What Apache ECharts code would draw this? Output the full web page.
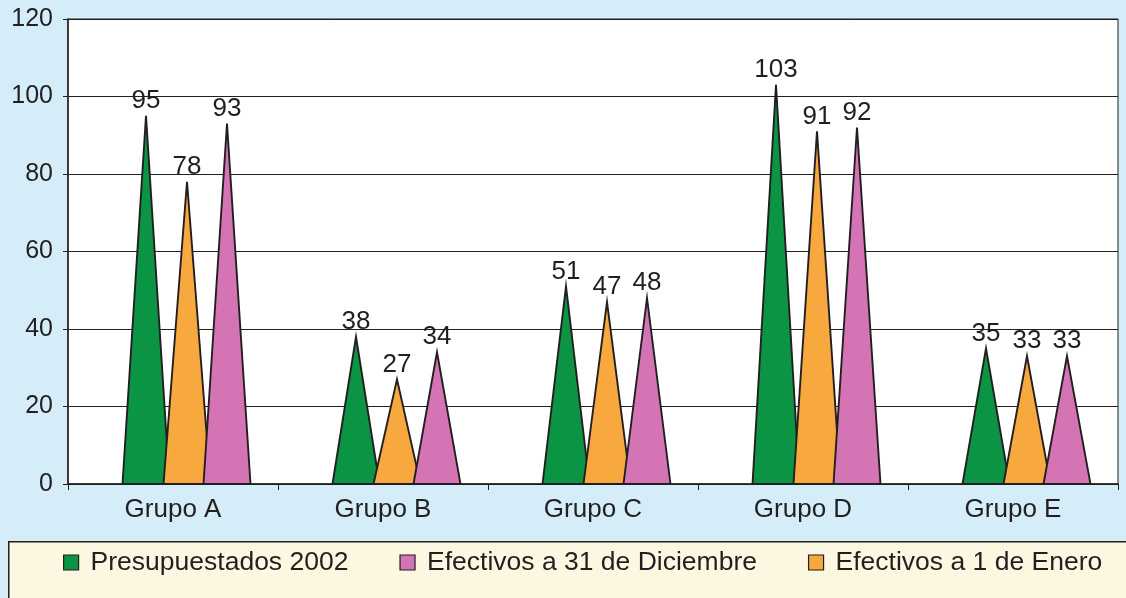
<!DOCTYPE html>
<html lang="es">
<head>
<meta charset="UTF-8">
<title>Efectivos por grupo</title>
<script src="https://cdn.jsdelivr.net/npm/echarts@6/dist/echarts.min.js"></script>
<style>
  html, body { margin: 0; padding: 0; background: #d5ecf9; }
</style>
</head>
<body>
<div id="main" style="width:1126px;height:598px;"></div>
<script>
// datos
var grupos = ['Grupo A', 'Grupo B', 'Grupo C', 'Grupo D', 'Grupo E'];
var presupuestados = [95, 38, 51, 103, 35];
var enero = [78, 27, 47, 91, 33];
var diciembre = [93, 34, 48, 92, 33];
var yTicks = [0, 20, 40, 60, 80, 100, 120];

var FONT = '"Liberation Sans", Arial, sans-serif';
var INK = '#231f20';

// cono (triángulo) dibujado con las coordenadas del eje
function serie(nombre, datos, color, desplaz) {
    return {
        name: nombre,
        type: 'custom',
        itemStyle: { color: color },
        data: datos.map(function (v, i) { return [i, v]; }),
        renderItem: function (params, api) {
            var cat = api.value(0);
            var val = api.value(1);
            var base = api.coord([cat, 0]);
            var tope = api.coord([cat, val]);
            var x = base[0] + desplaz;
            var half = 23.5;
            return {
                type: 'polygon',
                shape: { points: [[x - half, base[1]], [x, tope[1]], [x + half, base[1]]] },
                style: { fill: color, stroke: INK, lineWidth: 1.9, lineJoin: 'miter' },
                textContent: {
                    style: { text: String(val), fill: INK, fontFamily: FONT, fontSize: 26 }
                },
                textConfig: { position: 'top', distance: 1 }
            };
        }
    };
}

var myChart = echarts.init(document.getElementById('main'));

var option = {
    backgroundColor: '#d5ecf9',
    animation: false,
    grid: {
        left: 68, right: 8, top: 19, bottom: 114,
        show: true, backgroundColor: '#fff', borderColor: INK, borderWidth: 1
    },
    // caja de la leyenda
    graphic: [{
        type: 'rect',
        left: 8, top: 541,
        shape: { width: 1130, height: 70 },
        style: { fill: '#fcf7e0', stroke: INK, lineWidth: 1.5 },
        z: -1
    }],
    legend: {
        data: ['Presupuestados 2002', 'Efectivos a 31 de Diciembre', 'Efectivos a 1 de Enero'],
        left: 58, top: 544,
        icon: 'rect',
        itemWidth: 15, itemHeight: 15,
        itemGap: 51,
        textStyle: { color: INK, fontFamily: FONT, fontSize: 26.5, padding: [0, 0, 0, 7] },
        itemStyle: { borderColor: INK, borderWidth: 1.2 }
    },
    xAxis: {
        type: 'category',
        data: grupos,
        axisLine: { lineStyle: { color: INK, width: 1.5 } },
        axisTick: { show: true, length: 6, lineStyle: { color: INK } },
        axisLabel: { color: INK, fontFamily: FONT, fontSize: 26, margin: 13 }
    },
    yAxis: {
        type: 'value',
        min: yTicks[0], max: yTicks[yTicks.length - 1], interval: 20,
        axisLine: { show: true, lineStyle: { color: INK, width: 1.5 } },
        axisTick: { show: true, length: 5, lineStyle: { color: INK } },
        axisLabel: { color: INK, fontFamily: FONT, fontSize: 25, margin: 15 },
        splitLine: { lineStyle: { color: INK, width: 1.2 } }
    },
    series: [
        serie('Presupuestados 2002', presupuestados, '#0b9444', -27),
        serie('Efectivos a 1 de Enero', enero, '#f7a940', 14),
        serie('Efectivos a 31 de Diciembre', diciembre, '#d474b4', 54)
    ]
};

myChart.setOption(option);
</script>
</body>
</html>
